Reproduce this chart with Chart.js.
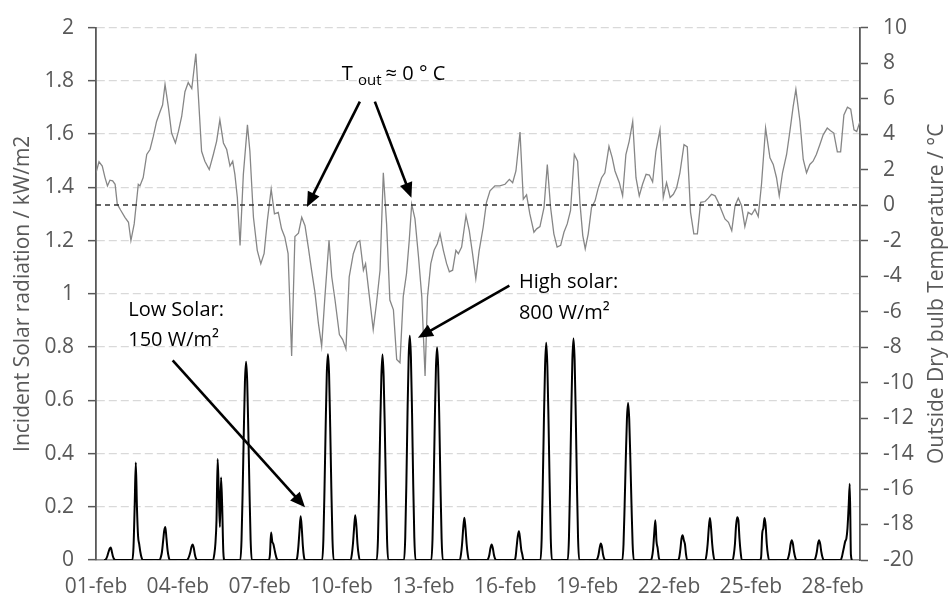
<!DOCTYPE html>
<html>
<head>
<meta charset="utf-8">
<script src="https://cdn.jsdelivr.net/npm/chart.js@4"></script>
<style>
  html, body { margin: 0; padding: 0; background: #fff; }
  #wrap { width: 949px; height: 601px; }
</style>
</head>
<body>
<div id="wrap"><canvas id="chart"></canvas></div>
<script>
// eixo x: dias desde 01-feb 00:00
const X_TICK_DAYS = [0, 3, 6, 9, 12, 15, 18, 21, 24, 27];
const X_TICK_LABELS = ['01-feb','04-feb','07-feb','10-feb','13-feb','16-feb','19-feb','22-feb','25-feb','28-feb'];

// radiação solar horária (kW/m2), horas 7..17 de cada dia
const SOLAR_HOURS = [7, 8, 9, 10, 11, 12, 13, 14, 15, 16, 17];
const SOLAR_BY_DAY = [
  [0, 0, 0.005, 0.015, 0.03, 0.042, 0.047, 0.03, 0.012, 0.003, 0],
  [0, 0, 0.05, 0.2, 0.366, 0.2, 0.09, 0.06, 0.03, 0.01, 0],
  [0, 0, 0.01, 0.03, 0.07, 0.11, 0.124, 0.08, 0.035, 0.01, 0],
  [0, 0, 0.005, 0.015, 0.03, 0.05, 0.058, 0.045, 0.02, 0.005, 0],
  [0, 0.02, 0.06, 0.15, 0.379, 0.25, 0.124, 0.31, 0.2, 0.03, 0],
  [0, 0.075, 0.26, 0.48, 0.67, 0.745, 0.67, 0.48, 0.26, 0.075, 0],
  [0, 0, 0.02, 0.103, 0.07, 0.06, 0.04, 0.02, 0.005, 0, 0],
  [0, 0, 0.01, 0.05, 0.11, 0.164, 0.12, 0.05, 0.01, 0, 0],
  [0, 0.077, 0.27, 0.5, 0.7, 0.773, 0.7, 0.5, 0.27, 0.077, 0],
  [0, 0, 0.02, 0.06, 0.12, 0.168, 0.13, 0.06, 0.02, 0, 0],
  [0, 0.077, 0.27, 0.5, 0.69, 0.772, 0.69, 0.5, 0.27, 0.077, 0],
  [0, 0.084, 0.29, 0.55, 0.76, 0.842, 0.76, 0.55, 0.29, 0.084, 0],
  [0, 0.08, 0.28, 0.52, 0.72, 0.798, 0.72, 0.52, 0.28, 0.08, 0],
  [0, 0, 0.02, 0.06, 0.12, 0.159, 0.12, 0.06, 0.02, 0, 0],
  [0, 0, 0.005, 0.02, 0.045, 0.058, 0.045, 0.02, 0.005, 0, 0],
  [0, 0, 0.01, 0.05, 0.09, 0.108, 0.08, 0.04, 0.02, 0, 0],
  [0, 0.08, 0.29, 0.53, 0.73, 0.816, 0.73, 0.53, 0.29, 0.08, 0],
  [0, 0.083, 0.29, 0.54, 0.75, 0.832, 0.75, 0.54, 0.29, 0.083, 0],
  [0, 0, 0.005, 0.02, 0.045, 0.062, 0.05, 0.02, 0.005, 0, 0],
  [0, 0.06, 0.21, 0.38, 0.53, 0.59, 0.53, 0.38, 0.21, 0.06, 0],
  [0, 0, 0.01, 0.04, 0.1, 0.149, 0.07, 0.045, 0.01, 0, 0],
  [0, 0, 0.01, 0.04, 0.08, 0.093, 0.075, 0.06, 0.02, 0, 0],
  [0, 0, 0.02, 0.06, 0.12, 0.158, 0.12, 0.06, 0.02, 0, 0],
  [0, 0, 0.02, 0.06, 0.13, 0.161, 0.15, 0.08, 0.03, 0, 0],
  [0, 0, 0.01, 0.1, 0.12, 0.158, 0.13, 0.06, 0.02, 0, 0],
  [0, 0, 0.01, 0.03, 0.06, 0.074, 0.06, 0.03, 0.01, 0, 0],
  [0, 0, 0.01, 0.03, 0.06, 0.074, 0.06, 0.03, 0.01, 0, 0],
  [0, 0.01, 0.03, 0.05, 0.07, 0.08, 0.12, 0.2, 0.286, 0.02, 0]
];

// temperatura exterior (°C): instante (dias) e valor
const TEMP_DAYS = [
  0.00, 0.11, 0.23, 0.33, 0.42, 0.51, 0.61, 0.70, 0.78, 0.90, 1.06, 1.19, 1.28, 1.40, 1.55, 1.61, 1.73, 1.86, 1.98, 2.10,
  2.22, 2.35, 2.44, 2.53, 2.65, 2.77, 2.91, 3.02, 3.14, 3.26, 3.38, 3.51, 3.66, 3.75, 3.87, 3.99, 4.15, 4.30, 4.42, 4.54,
  4.67, 4.79, 4.91, 5.01, 5.09, 5.18, 5.28, 5.40, 5.55, 5.64, 5.77, 5.91, 6.04, 6.16, 6.28, 6.42, 6.54, 6.68, 6.80, 6.92,
  7.04, 7.17, 7.29, 7.42, 7.54, 7.66, 7.78, 7.90, 8.02, 8.15, 8.27, 8.39, 8.54, 8.64, 8.76, 8.92, 9.04, 9.16, 9.28, 9.43,
  9.58, 9.67, 9.80, 9.88, 10.02, 10.16, 10.28, 10.41, 10.53, 10.65, 10.77, 10.90, 11.02, 11.14, 11.26, 11.38, 11.48, 11.57, 11.69, 11.82,
  11.94, 12.06, 12.15, 12.27, 12.39, 12.51, 12.61, 12.73, 12.85, 12.95, 13.07, 13.19, 13.28, 13.40, 13.56, 13.68, 13.80, 13.92, 14.04, 14.19,
  14.31, 14.44, 14.62, 14.80, 14.99, 15.15, 15.27, 15.39, 15.54, 15.66, 15.78, 15.90, 16.05, 16.15, 16.27, 16.42, 16.54, 16.66, 16.78, 16.90,
  17.03, 17.15, 17.27, 17.39, 17.53, 17.65, 17.74, 17.84, 17.93, 18.04, 18.16, 18.29, 18.41, 18.53, 18.65, 18.80, 18.92, 19.02, 19.18, 19.30,
  19.42, 19.54, 19.67, 19.79, 19.91, 20.03, 20.16, 20.28, 20.40, 20.52, 20.67, 20.79, 20.91, 21.04, 21.16, 21.28, 21.40, 21.55, 21.67, 21.79,
  21.91, 22.04, 22.16, 22.32, 22.44, 22.56, 22.69, 22.81, 22.93, 23.05, 23.18, 23.30, 23.42, 23.54, 23.66, 23.78, 23.90, 24.03, 24.15, 24.27,
  24.39, 24.54, 24.70, 24.82, 24.94, 25.04, 25.16, 25.31, 25.43, 25.55, 25.65, 25.80, 25.92, 26.04, 26.16, 26.28, 26.40, 26.53, 26.65, 26.80,
  26.92, 27.04, 27.17, 27.29, 27.41, 27.54, 27.66, 27.78, 27.88, 28.00
];
const TEMP_VALUES = [
  1.82, 2.44, 2.2, 1.55, 1.08, 1.4, 1.36, 1.17, 0.05, -0.28, -0.69, -0.97, -2.0, -1.06, 1.17, 1.08, 1.55, 2.85, 3.13, 3.87,
  4.71, 5.27, 5.64, 6.8, 5.55, 4.06, 3.5, 4.15, 4.99, 6.39, 6.9, 6.57, 8.53, 6.2, 3.03, 2.47, 2.0, 2.85, 3.59, 4.8,
  3.5, 3.13, 2.2, 2.47, 1.73, 0.43, -2.27, 1.73, 4.52, 3.03, -0.69, -2.55, -3.3, -2.74, -0.88, 0.89, -0.5, -0.41, -1.34, -1.81,
  -2.74, -8.51, -1.77, -1.58, -0.69, -1.16, -2.37, -3.67, -4.88, -6.65, -7.95, -5.16, -1.99, -4.04, -5.35, -7.3, -7.58, -8.1, -4.04, -2.74,
  -2.09, -2.0, -3.67, -3.3, -5.16, -7.02, -5.53, -3.67, 1.82, -1.06, -5.35, -5.9, -8.7, -8.88, -5.16, -3.86, -2.0, 0.05, -0.78, -2.93,
  -5.16, -9.63, -5.16, -3.3, -2.55, -2.18, -1.62, -2.55, -3.3, -3.76, -3.67, -2.55, -2.74, -2.37, -0.6, -1.44, -2.74, -4.14, -2.6, -1.25,
  0.15, 0.8, 1.08, 1.08, 1.17, 1.45, 1.26, 1.92, 4.11, 0.33, 0.58, -0.5, -1.53, -1.34, -1.21, -0.13, 2.29, -0.13, -1.62, -2.37,
  -2.27, -1.53, -1.06, -0.32, 2.85, 2.47, 0.05, -1.72, -2.46, -1.62, -0.13, 0.24, 0.98, 1.54, 1.82, 3.31, 2.66, 1.92, 1.26, 0.52,
  2.85, 3.59, 4.71, 1.54, 0.52, 1.17, 1.73, 1.69, 1.3, 3.03, 4.24, 0.43, 1.26, 0.43, 0.61, 0.98, 1.82, 3.41, 3.28, -0.41,
  -1.62, -1.62, 0.15, 0.2, 0.39, 0.61, 0.52, 0.15, -0.32, -0.78, -0.97, -1.44, -0.04, 0.39, -0.04, -1.21, -0.41, -0.54, -0.23, -0.65,
  1.17, 4.34, 2.66, 2.29, 1.54, 0.52, 1.82, 2.85, 4.15, 5.55, 6.52, 4.71, 2.57, 1.82, 2.29, 2.47, 2.85, 3.41, 3.96, 4.34,
  4.19, 4.06, 3.0, 3.0, 5.08, 5.51, 5.4, 4.24, 4.15, 4.71
];

// linha de referência 0 °C
const REF_TEMP = 0;

const LEFT_TITLE = 'Incident Solar radiation / kW/m2';
const RIGHT_TITLE = 'Outside Dry bulb Temperature / °C';

// anotações (posição em dias / kW/m2)
const NOTE_TEXTS = [
  { lines: ['Low Solar:', '150 W/m²'], day: 1.18, vals: [0.918, 0.803] },
  { lines: ['High solar:', '800 W/m²'], day: 15.5, vals: [1.023, 0.904] }
];
const NOTE_ARROWS = [
  { from: [9.67, 1.722], to: [7.73, 1.326] },
  { from: [10.22, 1.722], to: [11.56, 1.361] },
  { from: [2.81, 0.75], to: [7.66, 0.198] },
  { from: [15.15, 1.031], to: [11.8, 0.835] }
];
const TOUT_POS = { day: 9.01, val: 1.804 };

const FONT = '"Open Sans", sans-serif';
const AXIS_GREY = '#595959';

const solarData = [];
SOLAR_BY_DAY.forEach((vals, d) => {
  vals.forEach((v, i) => solarData.push({ x: d + SOLAR_HOURS[i] / 24, y: v }));
});
const tempData = TEMP_DAYS.map((d, i) => ({ x: d, y: TEMP_VALUES[i] }));

function drawArrow(ctx, x1, y1, x2, y2) {
  const a = Math.atan2(y2 - y1, x2 - x1);
  const L = 15, W = 6.5;
  const bx = x2 - L * Math.cos(a), by = y2 - L * Math.sin(a);
  ctx.beginPath();
  ctx.moveTo(x1, y1);
  ctx.lineTo(bx + 2 * Math.cos(a), by + 2 * Math.sin(a));
  ctx.stroke();
  ctx.beginPath();
  ctx.moveTo(x2, y2);
  ctx.lineTo(bx - W * Math.sin(a), by + W * Math.cos(a));
  ctx.lineTo(bx + W * Math.sin(a), by - W * Math.cos(a));
  ctx.closePath();
  ctx.fill();
}

const overlay = {
  id: 'overlay',
  afterDraw(chart) {
    const { ctx, chartArea, scales: { x, y } } = chart;
    const px = d => x.getPixelForValue(d);
    const py = v => y.getPixelForValue(v);
    ctx.save();

    // títulos dos eixos
    const cy = (chartArea.top + chartArea.bottom) / 2;
    ctx.fillStyle = AXIS_GREY;
    ctx.font = '21px ' + FONT;
    ctx.textAlign = 'center';
    ctx.textBaseline = 'middle';
    ctx.save();
    ctx.translate(23, cy);
    ctx.rotate(-Math.PI / 2);
    ctx.fillText(LEFT_TITLE, 0, 0);
    ctx.restore();
    ctx.save();
    ctx.translate(937, cy);
    ctx.rotate(-Math.PI / 2);
    ctx.fillText(RIGHT_TITLE, 0, 0);
    ctx.restore();

    // textos
    ctx.fillStyle = '#000';
    ctx.textAlign = 'left';
    ctx.textBaseline = 'alphabetic';
    ctx.font = '20px ' + FONT;
    NOTE_TEXTS.forEach(n => {
      n.lines.forEach((t, i) => ctx.fillText(t, px(n.day), py(n.vals[i])));
    });

    // T out ≈ 0 ° C
    let tx = px(TOUT_POS.day);
    const ty = py(TOUT_POS.val);
    ctx.fillText('T', tx, ty);
    tx += ctx.measureText('T ').width;
    ctx.font = '15px ' + FONT;
    ctx.fillText('out', tx, ty + 5);
    tx += ctx.measureText('out').width + 4;
    ctx.font = '20px ' + FONT;
    ctx.fillText('≈ 0 ° C', tx, ty);

    // setas
    ctx.strokeStyle = '#000';
    ctx.lineWidth = 2.6;
    NOTE_ARROWS.forEach(a => drawArrow(ctx, px(a.from[0]), py(a.from[1]), px(a.to[0]), py(a.to[1])));
    ctx.restore();
  }
};

new Chart(document.getElementById('chart'), {
  type: 'line',
  data: {
    datasets: [
      {
        label: 'Solar',
        data: solarData,
        yAxisID: 'y',
        borderColor: '#000',
        borderWidth: 2,
        pointRadius: 0,
        cubicInterpolationMode: 'monotone',
        order: 2
      },
      {
        label: 'Temperatura',
        data: tempData,
        yAxisID: 'y2',
        borderColor: '#868686',
        borderWidth: 1.3,
        pointRadius: 0,
        tension: 0,
        order: 1
      },
      {
        label: '0 °C',
        data: [{ x: 0, y: REF_TEMP }, { x: 28, y: REF_TEMP }],
        yAxisID: 'y2',
        borderColor: '#333',
        borderWidth: 1.5,
        borderDash: [5, 4],
        pointRadius: 0,
        order: 0
      }
    ]
  },
  options: {
    responsive: true,
    maintainAspectRatio: false,
    animation: false,
    layout: { padding: { top: 22, left: 0, right: 0, bottom: 0 } },
    plugins: { legend: { display: false }, tooltip: { enabled: false } },
    scales: {
      x: {
        type: 'linear',
        min: 0,
        max: 28,
        afterBuildTicks: s => { s.ticks = X_TICK_DAYS.map(v => ({ value: v })); },
        afterFit: s => { s.height = 41; },
        ticks: {
          callback: v => X_TICK_LABELS[X_TICK_DAYS.indexOf(v)],
          color: AXIS_GREY,
          font: { family: FONT, size: 21 },
          padding: 14,
          maxRotation: 0,
          autoSkip: false
        },
        grid: { display: false, drawTicks: false },
        border: { display: true, color: '#8c8c8c', width: 1.5 }
      },
      y: {
        position: 'left',
        min: 0,
        max: 2,
        afterFit: s => { s.width = 96; },
        ticks: {
          stepSize: 0.2,
          callback: v => String(+v.toFixed(1)),
          color: AXIS_GREY,
          font: { family: FONT, size: 21 },
          padding: 14
        },
        grid: { color: '#d9d9d9', lineWidth: 1.3, tickLength: 8, tickColor: AXIS_GREY, tickWidth: 1.5 },
        border: { display: true, color: AXIS_GREY, width: 1.8, dash: [8, 4] }
      },
      y2: {
        position: 'right',
        min: -20,
        max: 10,
        afterFit: s => { s.width = 89; },
        ticks: {
          stepSize: 2,
          color: AXIS_GREY,
          font: { family: FONT, size: 21 },
          padding: 15
        },
        grid: { drawOnChartArea: false, tickLength: 8, tickColor: AXIS_GREY, tickWidth: 1.5 },
        border: { display: true, color: AXIS_GREY, width: 1.8 }
      }
    }
  },
  plugins: [overlay]
});
</script>
</body>
</html>
